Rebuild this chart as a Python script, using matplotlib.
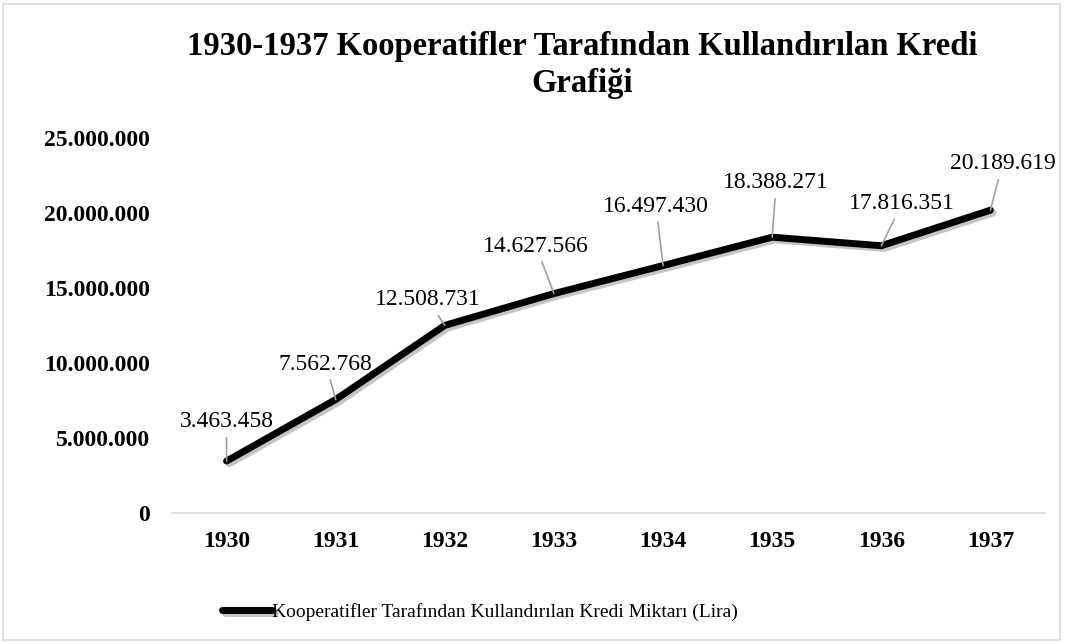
import matplotlib
matplotlib.use("Agg")
import matplotlib.pyplot as plt
import matplotlib.patheffects as pe
from matplotlib.patches import Rectangle
from matplotlib.ticker import FuncFormatter

years = ["1930", "1931", "1932", "1933", "1934", "1935", "1936", "1937"]
values = [3463458, 7562768, 12508731, 14627566, 16497430, 18388271, 17816351, 20189619]
label_offsets = [(0, 34), (-10, 30), (-17, 20), (-18, 42), (-7, 54), (4, 49), (21, 37), (12, 41)]
series_name = "Kooperatifler Tarafından Kullandırılan Kredi Miktarı (Lira)"
title = "1930-1937 Kooperatifler Tarafından Kullandırılan Kredi\nGrafiği"

plt.rcParams['font.family'] = ['Liberation Serif', 'DejaVu Serif']

def fmt(v):
    return f"{int(v):,}".replace(",", ".")

fig = plt.figure(figsize=(10.65, 6.44), dpi=100)
fig.patches.append(Rectangle((3/1065, 4/644), 1057/1065, 636/644, transform=fig.transFigure,
                             fill=False, edgecolor='#d9d9d9', lw=1.2))
ax = fig.add_axes([172/1065, 1-513/644, 873/1065, 375/644])
x = list(range(len(years)))
ax.plot(x, values, color='black', lw=5, solid_capstyle='round', solid_joinstyle='round',
        path_effects=[pe.SimpleLineShadow(offset=(2, -2), shadow_color='gray', alpha=0.45), pe.Normal()],
        label=series_name, zorder=3)
for xi, v, off in zip(x, values, label_offsets):
    ax.annotate(fmt(v), xy=(xi, v), xytext=off, textcoords='offset pixels',
                ha='center', va='baseline', fontsize=17,
                arrowprops=dict(arrowstyle='-', color='#a0a0a0', lw=1.2, shrinkA=2, shrinkB=0))
ax.set_xlim(-0.5, len(years)-0.5)
ax.set_ylim(0, 25000000)
ax.set_yticks([0, 5e6, 10e6, 15e6, 20e6, 25e6])
ax.yaxis.set_major_formatter(FuncFormatter(lambda v, p: fmt(v)))
ax.set_xticks(x)
ax.set_xticklabels(years)
for lab in ax.get_xticklabels() + ax.get_yticklabels():
    lab.set_fontweight('bold')
    lab.set_fontsize(17)
ax.tick_params(length=0)
ax.tick_params(axis='x', pad=13)
ax.tick_params(axis='y', pad=16)
for s in ['top', 'right', 'left']:
    ax.spines[s].set_visible(False)
ax.spines['bottom'].set_color('#d9d9d9')
ax.spines['bottom'].set_linewidth(1.2)
fig.text(582/1065, 1-65/644, title, ha='center', va='center', fontsize=23.5, fontweight='bold', linespacing=1.29)
fig.legend(loc='center', bbox_to_anchor=(480/1065, 1-612/644), frameon=False, fontsize=14,
           handlelength=2.6, handletextpad=0.0)
fig.savefig("out.png", dpi=100)
